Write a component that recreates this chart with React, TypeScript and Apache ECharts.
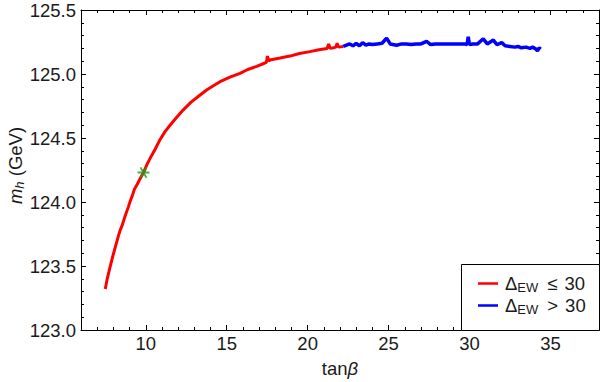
import React, { useEffect, useRef } from "react";
import * as echarts from "echarts";

// Red branch: Delta_EW <= 30
const redTanBeta = [
  7.5, 7.62, 7.79, 7.95, 8.1, 8.3, 8.42, 8.55, 8.7, 8.92, 9.05, 9.17, 9.3, 9.44, 9.6,
  9.86, 10.1, 10.35, 10.57, 10.85, 11.19, 11.5, 11.9, 12.32, 12.8, 13.3, 13.76, 14.2,
  14.59, 15.2, 15.82, 16.3, 16.85, 17.25, 17.45, 17.52, 17.6, 17.67, 18.3, 18.91, 19.5,
  20.14, 20.7, 21.2, 21.3, 21.4, 21.6, 21.75, 21.82, 21.9, 22.2,
];
const redMh = [
  123.32, 123.4, 123.49, 123.57, 123.64, 123.73, 123.78, 123.82, 123.88, 123.96, 124.01,
  124.05, 124.1, 124.13, 124.17, 124.23, 124.3, 124.36, 124.41, 124.48, 124.55, 124.6,
  124.66, 124.72, 124.78, 124.83, 124.875, 124.91, 124.94, 124.975, 125.005, 125.035,
  125.06, 125.08, 125.09, 125.14, 125.1, 125.11, 125.125, 125.14, 125.16, 125.175,
  125.19, 125.2, 125.235, 125.2, 125.205, 125.21, 125.24, 125.21, 125.215,
];

// Blue branch: Delta_EW > 30
const blueTanBeta = [
  22.2, 22.4, 22.6, 22.8, 23.0, 23.2, 23.4, 23.6, 23.8, 24.0, 24.3, 24.6, 24.88, 25.1,
  25.5, 25.8, 26.1, 26.4, 26.7, 27.0, 27.35, 27.6, 27.9, 28.2, 28.5, 28.8, 29.1, 29.4,
  29.7, 29.85, 29.92, 30.0, 30.2, 30.5, 30.85, 31.1, 31.47, 31.7, 31.99, 32.2, 32.5,
  32.8, 33.0, 33.2, 33.5, 33.73, 33.9, 34.1, 34.2, 34.3, 34.4,
];
const blueMh = [
  125.215, 125.225, 125.235, 125.22, 125.24, 125.22, 125.245, 125.225, 125.235, 125.23,
  125.235, 125.24, 125.28, 125.235, 125.225, 125.235, 125.235, 125.23, 125.235, 125.235,
  125.255, 125.23, 125.235, 125.235, 125.235, 125.235, 125.235, 125.235, 125.235, 125.23,
  125.29, 125.23, 125.235, 125.235, 125.275, 125.235, 125.265, 125.23, 125.245, 125.22,
  125.215, 125.21, 125.215, 125.205, 125.21, 125.2, 125.21, 125.195, 125.18, 125.205,
  125.195,
];

// Benchmark point (green asterisk)
const benchmarkTanBeta = [9.86];
const benchmarkMh = [124.23];

// Axis ticks
const xMajorTicks = [10, 15, 20, 25, 30, 35];
const xMinorTicks = [
  6, 7, 8, 9, 10, 11, 12, 13, 14, 15, 16, 17, 18, 19, 20, 21, 22, 23, 24, 25, 26, 27, 28,
  29, 30, 31, 32, 33, 34, 35, 36, 37, 38,
];

const legendNames = ["le", "gt"];

const FONT = "'Liberation Sans', Arial, sans-serif";
const FS = 18.5;
const ASTERISK =
  "path://M-10,1.6 L10,1.6 L10,-1.6 L-10,-1.6 Z " +
  "M-6.39,7.86 L-3.61,9.46 L6.39,-7.86 L3.61,-9.46 Z " +
  "M3.61,9.46 L6.39,7.86 L-3.61,-9.46 L-6.39,-7.86 Z";

export default function App() {
  const ref = useRef<HTMLDivElement>(null);

  useEffect(() => {
    const chart = echarts.init(ref.current!, null, { renderer: "svg" });
    const zip = (xs: number[], ys: number[]) => xs.map((x, i) => [x, ys[i]]);
    const black = "#000";
    const textColor = "#1a1a1a";

    const xBase = (position: string, withLabels: boolean, major: boolean, withLine: boolean) => ({
      type: "value",
      position,
      min: 6,
      max: 38,
      splitLine: { show: false },
      axisLine: { show: withLine, onZero: false, lineStyle: { color: black, width: 1 } },
      axisTick: {
        show: true,
        inside: true,
        length: major ? 5 : 3,
        customValues: major ? xMajorTicks : xMinorTicks,
        lineStyle: { color: black, width: 1 },
      },
      axisLabel: {
        show: withLabels,
        customValues: xMajorTicks,
        color: textColor,
        fontFamily: FONT,
        fontSize: FS,
        margin: 4,
      },
    });

    const yBase = (position: string, withLabels: boolean) => ({
      type: "value",
      position,
      min: 123,
      max: 125.5,
      interval: 0.5,
      splitLine: { show: false },
      axisLine: { show: true, onZero: false, lineStyle: { color: black, width: 1 } },
      axisTick: { show: true, inside: true, length: 5, lineStyle: { color: black, width: 1 } },
      minorTick: { show: true, splitNumber: 5, length: 3, lineStyle: { color: black, width: 1 } },
      axisLabel: {
        show: withLabels,
        color: textColor,
        fontFamily: FONT,
        fontSize: FS,
        margin: 5,
        formatter: (v: number) => v.toFixed(1),
      },
    });

    const xAxes: any[] = [
      {
        ...xBase("bottom", true, true, true),
        name: "{n|tan}{i|β}",
        nameLocation: "middle",
        nameGap: 29,
        nameMoveOverlap: false,
        nameTextStyle: {
          rich: {
            n: { fontFamily: FONT, fontSize: FS, color: textColor },
            i: { fontFamily: FONT, fontSize: FS, fontStyle: "italic", color: textColor },
          },
        },
      },
      xBase("bottom", false, false, false),
      xBase("top", false, true, true),
      xBase("top", false, false, false),
    ];

    const yAxes: any[] = [
      {
        ...yBase("left", true),
        name: "{i|m}{s|h}{n| (GeV)}",
        nameLocation: "middle",
        nameRotate: 90,
        nameGap: 55,
        nameMoveOverlap: false,
        nameTextStyle: {
          padding: [0, 0, 0, 9],
          rich: {
            i: { fontFamily: FONT, fontSize: FS, fontStyle: "italic", color: textColor, lineHeight: 21 },
            s: {
              fontFamily: FONT,
              fontSize: 13,
              fontStyle: "italic",
              color: textColor,
              verticalAlign: "bottom",
              lineHeight: 13,
            },
            n: { fontFamily: FONT, fontSize: FS, color: textColor, lineHeight: 21 },
          },
        },
      },
      yBase("right", false),
    ];

    const option: any = {
      animation: false,
      backgroundColor: "#fff",
      grid: {
        left: 81,
        right: 1,
        top: 10,
        bottom: 52,
        containLabel: false,
        outerBoundsMode: "none",
      },
      xAxis: xAxes,
      yAxis: yAxes,
      graphic: [
        {
          type: "rect",
          z: 3,
          shape: { x: 461.5, y: 264.5, width: 138, height: 66 },
          style: { fill: "#fff", stroke: black, lineWidth: 1 },
        },
      ],
      legend: {
        z: 5,
        orient: "vertical",
        left: 478,
        top: 274,
        padding: 0,
        itemGap: 2,
        itemWidth: 20,
        itemHeight: 2.5,
        icon: "rect",
        data: legendNames,
        formatter: (name: string) =>
          name === "le" ? "{d|Δ}{s|EW}{o|≤}{d|30}" : "{d|Δ}{s|EW}{o|>}{d|30}",
        textStyle: {
          padding: [0, 0, 0, 2],
          rich: {
            d: { fontFamily: FONT, fontSize: FS, color: textColor, lineHeight: 21 },
            s: {
              fontFamily: FONT,
              fontSize: 13,
              color: textColor,
              verticalAlign: "bottom",
              lineHeight: 13,
            },
            o: {
              fontFamily: FONT,
              fontSize: FS,
              color: textColor,
              lineHeight: 21,
              padding: [0, 7, 0, 9],
            },
          },
        },
      },
      series: [
        {
          name: "le",
          type: "line",
          xAxisIndex: 0,
          yAxisIndex: 0,
          data: zip(redTanBeta, redMh),
          symbol: "none",
          color: "#ff0000",
          lineStyle: { color: "#ff0000", width: 3 },
          z: 2,
        },
        {
          name: "gt",
          type: "line",
          xAxisIndex: 0,
          yAxisIndex: 0,
          data: zip(blueTanBeta, blueMh),
          symbol: "none",
          color: "#0000ff",
          lineStyle: { color: "#0000ff", width: 3.5 },
          z: 2,
        },
        {
          name: "benchmark",
          type: "scatter",
          xAxisIndex: 0,
          yAxisIndex: 0,
          data: zip(benchmarkTanBeta, benchmarkMh),
          symbol: ASTERISK,
          symbolKeepAspect: true,
          symbolSize: 12,
          itemStyle: { color: "#1f9e1f" },
          z: 4,
        },
      ],
    };

    chart.setOption(option);
    return () => chart.dispose();
  }, []);

  return (
    <div
      ref={ref}
      style={{ position: "fixed", left: 0, top: 0, width: 600, height: 382, background: "#fff" }}
    />
  );
}
